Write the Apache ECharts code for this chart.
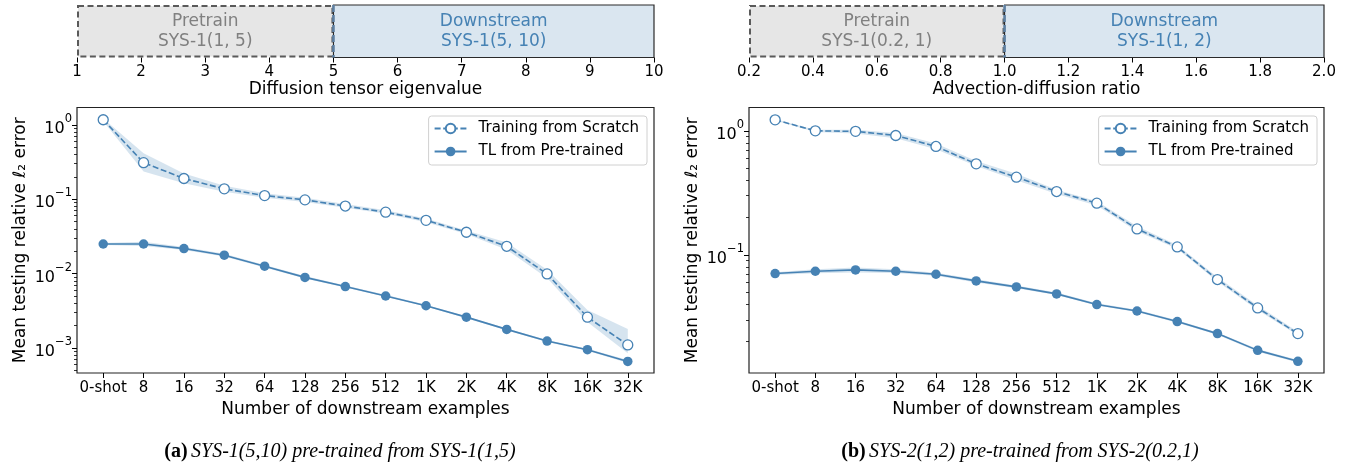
<!DOCTYPE html>
<html><head><meta charset="utf-8">
<script src="https://cdn.jsdelivr.net/npm/echarts@6/dist/echarts.min.js"></script>
<style>html,body{margin:0;padding:0;background:#fff}#c{width:1358px;height:470px}</style>
</head><body><div id="c"></div>
<script>
const categories = ['0-shot','8','16','32','64','128','256','512','1K','2K','4K','8K','16K','32K'];

const leftScratch     = [1.17, 0.31, 0.19, 0.138, 0.112, 0.098, 0.081, 0.067, 0.052, 0.036, 0.0233, 0.0099, 0.0026, 0.0011];
const leftScratchLow  = [1.12, 0.236, 0.164, 0.126, 0.105, 0.092, 0.077, 0.064, 0.049, 0.034, 0.021, 0.0087, 0.00224, 0.00085];
const leftScratchHigh = [1.22, 0.416, 0.222, 0.152, 0.120, 0.105, 0.086, 0.071, 0.055, 0.038, 0.0262, 0.0113, 0.00325, 0.0018];
const leftTL          = [0.025, 0.025, 0.0217, 0.0177, 0.0126, 0.0089, 0.0067, 0.0050, 0.0037, 0.0026, 0.00178, 0.00124, 0.00095, 0.00066];
const leftTLLow       = [0.0243, 0.0235, 0.0208, 0.0170, 0.0121, 0.0086, 0.0065, 0.0049, 0.0036, 0.00252, 0.00173, 0.00120, 0.00092, 0.00063];
const leftTLHigh      = [0.0257, 0.0268, 0.0228, 0.0185, 0.0131, 0.0093, 0.0069, 0.0052, 0.0038, 0.00266, 0.00183, 0.00128, 0.00098, 0.00069];

const rightScratch     = [1.227, 1.0, 0.99, 0.917, 0.748, 0.542, 0.423, 0.324, 0.261, 0.162, 0.116, 0.0633, 0.0374, 0.0232];
const rightScratchLow  = [1.21, 0.98, 0.95, 0.87, 0.71, 0.52, 0.40, 0.31, 0.25, 0.155, 0.112, 0.061, 0.036, 0.0225];
const rightScratchHigh = [1.24, 1.02, 1.02, 0.96, 0.79, 0.57, 0.45, 0.335, 0.27, 0.17, 0.12, 0.066, 0.039, 0.024];
const rightTL          = [0.0707, 0.0738, 0.0757, 0.0738, 0.0698, 0.0617, 0.0552, 0.0485, 0.0398, 0.0353, 0.029, 0.0232, 0.0170, 0.01387];
const rightTLLow       = [0.069, 0.071, 0.072, 0.0715, 0.068, 0.0600, 0.0538, 0.0474, 0.0390, 0.0346, 0.0284, 0.0227, 0.0166, 0.0136];
const rightTLHigh      = [0.0725, 0.0765, 0.079, 0.0765, 0.0718, 0.0635, 0.0567, 0.0497, 0.0407, 0.0361, 0.0297, 0.0237, 0.0174, 0.0142];

const leftMajorTicks  = [0.001, 0.01, 0.1, 1];
const leftMinorTicks  = [5e-4,6e-4,7e-4,8e-4,9e-4, 2e-3,3e-3,4e-3,5e-3,6e-3,7e-3,8e-3,9e-3,
                         2e-2,3e-2,4e-2,5e-2,6e-2,7e-2,8e-2,9e-2, 0.2,0.3,0.4,0.5,0.6,0.7,0.8,0.9];
const rightMajorTicks = [0.1, 1];
const rightMinorTicks = [0.02,0.03,0.04,0.05,0.06,0.07,0.08,0.09, 0.2,0.3,0.4,0.5,0.6,0.7,0.8,0.9];

const leftRegions  = [
  {from: 1, to: 5, title: 'Pretrain', sub: 'SYS-1(1, 5)', kind: 'pre'},
  {from: 5, to: 10, title: 'Downstream', sub: 'SYS-1(5, 10)', kind: 'down'}
];
const rightRegions = [
  {from: 0.2, to: 1.0, title: 'Pretrain', sub: 'SYS-1(0.2, 1)', kind: 'pre'},
  {from: 1.0, to: 2.0, title: 'Downstream', sub: 'SYS-1(1, 2)', kind: 'down'}
];

const BLUE = '#4682b4';
const FONT = 'DejaVu Sans';
const idx = categories.map((c, i) => i);
const lg = v => Math.log10(v);
const NOLINE = {show: false, onZero: false};

function supLabel(e) {
  e = Math.round(e);
  return '{b|10}{s|' + (e < 0 ? '\u2212' + (-e) : String(e)) + '}';
}

function boxSeries(axisIdx, regions) {
  return {
    type: 'custom', xAxisIndex: axisIdx, yAxisIndex: axisIdx, silent: true,
    data: regions.map((r, i) => [r.from, r.to, i]),
    renderItem: function (params, api) {
      const r = regions[api.value(2)];
      const p0 = api.coord([api.value(0), 1]);
      const p1 = api.coord([api.value(1), 0]);
      const w = p1[0] - p0[0], h = p1[1] - p0[1];
      const children = [];
      if (r.kind === 'pre') {
        children.push({type: 'rect', shape: {x: p0[0] + 1, y: p0[1] + 1, width: w - 2, height: h - 2},
          style: {fill: '#e6e6e6', stroke: '#5a5a5a', lineWidth: 2, lineDash: [6, 3.5]}});
      } else {
        children.push({type: 'rect', shape: {x: p0[0], y: p0[1], width: w, height: h},
          style: {fill: '#dae6f0', stroke: '#2a2a2a', lineWidth: 1.2}});
        children.push({type: 'line', z2: 5, shape: {x1: p0[0], y1: p0[1], x2: p0[0], y2: p1[1]},
          style: {stroke: '#5e80a2', lineWidth: 2.6, lineDash: [7, 3]}});
      }
      children.push({type: 'text', z2: 6, style: {
        text: r.title + '\n' + r.sub, x: p0[0] + w / 2, y: p0[1] + h / 2,
        align: 'center', verticalAlign: 'middle', lineHeight: 20,
        fill: r.kind === 'pre' ? '#808080' : BLUE, font: '17px "' + FONT + '"'}});
      return {type: 'group', children: children};
    }
  };
}

function bandSeries(xIdx, yIdx, low, high) {
  return {
    type: 'custom', xAxisIndex: xIdx, yAxisIndex: yIdx, silent: true, z: 1,
    data: [[0, low[0]]],
    renderItem: function (params, api) {
      const pts = [];
      for (let i = 0; i < high.length; i++) pts.push(api.coord([i, high[i]]));
      for (let i = low.length - 1; i >= 0; i--) pts.push(api.coord([i, low[i]]));
      return {type: 'polygon', shape: {points: pts}, style: {fill: 'rgba(70,130,180,0.22)'}};
    }
  };
}

function lineSeries(xIdx, yIdx, name, vals, open) {
  return {
    type: 'line', name: name, xAxisIndex: xIdx, yAxisIndex: yIdx, z: 3,
    data: vals.map((v, i) => [i, v]),
    symbol: 'circle', symbolSize: open ? 10 : 9.5, showAllSymbol: true,
    lineStyle: {color: BLUE, width: 1.6, type: open ? [6, 2.6] : 'solid'},
    itemStyle: open ? {color: '#ffffff', borderColor: BLUE, borderWidth: 1.3} : {color: BLUE, borderWidth: 0},
    emphasis: {disabled: true}
  };
}

function mainX(gridIndex) {
  return {
    type: 'value', gridIndex: gridIndex, min: -0.65, max: 13.65,
    name: 'Number of downstream examples', nameLocation: 'middle', nameGap: 24,
    nameTextStyle: {fontFamily: FONT, fontSize: 17, color: '#000'},
    axisLine: NOLINE, splitLine: {show: false},
    axisTick: {show: true, length: 5, lineStyle: {color: '#000', width: 1}, customValues: idx},
    axisLabel: {customValues: idx, formatter: v => categories[Math.round(v)], fontFamily: FONT, fontSize: 15, color: '#000', margin: 8}
  };
}

// data axis (log, hidden) — the series are plotted through this one
function dataY(gridIndex, min, max) {
  return {type: 'log', gridIndex: gridIndex, min: min, max: max, show: false, position: 'left', axisLine: NOLINE};
}

// visible tick/label axis in log10 space, aligned with the data axis
function labelY(gridIndex, min, max, major) {
  const m = major.map(lg);
  return {
    type: 'value', gridIndex: gridIndex, min: lg(min), max: lg(max), position: 'left',
    name: 'Mean testing relative \u2113\u2082 error', nameLocation: 'middle', nameRotate: 90, nameGap: 48,
    nameTextStyle: {fontFamily: FONT, fontSize: 17, color: '#000'},
    axisLine: NOLINE, splitLine: {show: false}, minorTick: {show: false},
    axisTick: {show: true, length: 5, lineStyle: {color: '#000', width: 1}, customValues: m},
    axisLabel: {customValues: m, formatter: supLabel, margin: 5, color: '#000',
      rich: {b: {fontFamily: FONT, fontSize: 16, lineHeight: 24, verticalAlign: 'bottom', color: '#000'},
             s: {fontFamily: FONT, fontSize: 11.5, lineHeight: 12, verticalAlign: 'top', color: '#000'}}}
  };
}

function minorY(gridIndex, min, max, minor) {
  return {
    type: 'value', gridIndex: gridIndex, min: lg(min), max: lg(max), position: 'left',
    axisLine: NOLINE, splitLine: {show: false}, axisLabel: {show: false},
    axisTick: {show: true, length: 3, lineStyle: {color: '#000', width: 0.8}, customValues: minor.map(lg)}
  };
}

function topX(gridIndex, min, max, interval, name, fmt) {
  return {
    type: 'value', gridIndex: gridIndex, min: min, max: max, interval: interval,
    name: name, nameLocation: 'middle', nameGap: 24,
    nameTextStyle: {fontFamily: FONT, fontSize: 17, color: '#000'},
    axisLine: NOLINE, splitLine: {show: false},
    axisTick: {show: true, length: 5, lineStyle: {color: '#000', width: 1}},
    axisLabel: {fontFamily: FONT, fontSize: 15, color: '#000', margin: 7, formatter: fmt}
  };
}

function legend(rightPx) {
  return {
    right: rightPx, top: 116, orient: 'vertical', itemWidth: 32, itemHeight: 12, itemGap: 8,
    padding: [5, 8, 6, 5], borderColor: '#d0d0d0', borderWidth: 1, borderRadius: 3,
    backgroundColor: 'rgba(255,255,255,0.85)', selectedMode: false,
    textStyle: {fontFamily: FONT, fontSize: 15, color: '#000', padding: [0, 0, 0, 7], lineHeight: 15},
    data: ['Training from Scratch', 'TL from Pre-trained']
  };
}

const LMIN = Math.pow(10, -3.336), LMAX = Math.pow(10, 0.233);
const RMIN = Math.pow(10, -1.952), RMAX = Math.pow(10, 0.188);

const option = {
  animation: false,
  backgroundColor: '#fff',
  grid: [
    {left: 77, width: 577, top: 5, height: 52.5, show: false},
    {left: 77, width: 577, top: 107.5, height: 265.5, show: true, borderColor: '#222', borderWidth: 1.2, backgroundColor: 'transparent'},
    {left: 749, width: 575, top: 5, height: 52.5, show: false},
    {left: 749, width: 575, top: 107.5, height: 265.5, show: true, borderColor: '#222', borderWidth: 1.2, backgroundColor: 'transparent'}
  ],
  xAxis: [
    topX(0, 1, 10, 1, 'Diffusion tensor eigenvalue', v => String(v)),
    mainX(1),
    topX(2, 0.2, 2.0, 0.2, 'Advection-diffusion ratio', v => v.toFixed(1)),
    mainX(3)
  ],
  yAxis: [
    {type: 'value', gridIndex: 0, min: 0, max: 1, show: false, axisLine: NOLINE},
    dataY(1, LMIN, LMAX),
    {type: 'value', gridIndex: 2, min: 0, max: 1, show: false, axisLine: NOLINE},
    dataY(3, RMIN, RMAX),
    labelY(1, LMIN, LMAX, leftMajorTicks),
    labelY(3, RMIN, RMAX, rightMajorTicks),
    minorY(1, LMIN, LMAX, leftMinorTicks),
    minorY(3, RMIN, RMAX, rightMinorTicks)
  ],
  legend: [legend(1358 - 647), legend(1358 - 1317)],
  series: [
    boxSeries(0, leftRegions),
    boxSeries(2, rightRegions),
    bandSeries(1, 1, leftScratchLow, leftScratchHigh),
    bandSeries(1, 1, leftTLLow, leftTLHigh),
    bandSeries(3, 3, rightScratchLow, rightScratchHigh),
    bandSeries(3, 3, rightTLLow, rightTLHigh),
    lineSeries(1, 1, 'Training from Scratch', leftScratch, true),
    lineSeries(1, 1, 'TL from Pre-trained', leftTL, false),
    lineSeries(3, 3, 'Training from Scratch', rightScratch, true),
    lineSeries(3, 3, 'TL from Pre-trained', rightTL, false)
  ],
  graphic: [
    {type: 'text', x: 340, y: 452, style: {
      text: '{b|(a)} {i|SYS-1(5,10) pre-trained from SYS-1(1,5)}', align: 'center', verticalAlign: 'middle',
      rich: {b: {fontFamily: 'Liberation Serif', fontWeight: 'bold', fontSize: 20, fill: '#000'},
             i: {fontFamily: 'Liberation Serif', fontStyle: 'italic', fontSize: 20, fill: '#000'}}}},
    {type: 'text', x: 1020, y: 452, style: {
      text: '{b|(b)} {i|SYS-2(1,2) pre-trained from SYS-2(0.2,1)}', align: 'center', verticalAlign: 'middle',
      rich: {b: {fontFamily: 'Liberation Serif', fontWeight: 'bold', fontSize: 20, fill: '#000'},
             i: {fontFamily: 'Liberation Serif', fontStyle: 'italic', fontSize: 20, fill: '#000'}}}}
  ]
};

const chart = echarts.init(document.getElementById('c'), null, {renderer: 'canvas'});
chart.setOption(option);
</script>
</body></html>
